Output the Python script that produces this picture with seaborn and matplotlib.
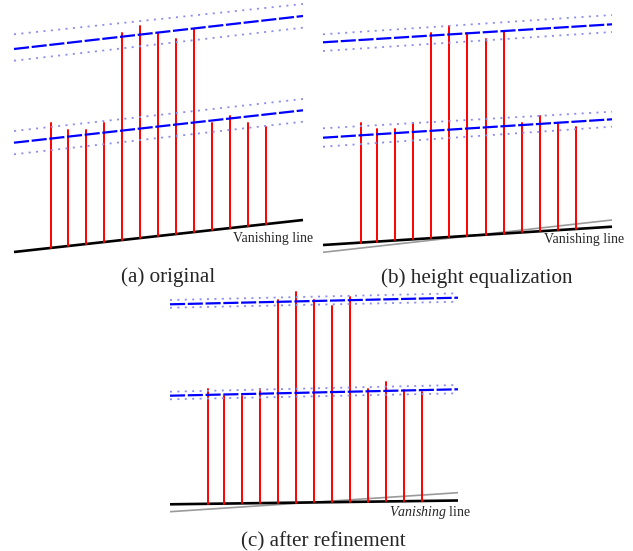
import matplotlib

matplotlib.use("Agg")
import matplotlib.pyplot as plt
import numpy as np
import pandas as pd
import seaborn as sns

sns.set_theme(style="white")
plt.rcParams["font.family"] = ["Liberation Serif", "DejaVu Serif"]
plt.rcParams["mathtext.fontset"] = "custom"
plt.rcParams["mathtext.it"] = "Liberation Serif:italic"
plt.rcParams["mathtext.rm"] = "Liberation Serif"

# everything below is measured in pixels of the 633x551 picture (y down)

# (a) original
a_pole_x = [51, 68.3, 86.3, 104.3, 122.3, 140, 158.3, 176.3, 194.3, 212.3, 230.3, 248.3, 266.3]
a_pole_top = [123.3, 130, 130, 123.3, 33.3, 26, 33.3, 39, 29.3, 123.3, 116, 123.3, 126.7]
a_span = [14, 303]
a_ground = [252, 220]
a_upper = [49, 16]
a_upper_band = [[34.3, 4], [60.7, 27.7]]
a_lower = [142.7, 110.3]
a_lower_band = [[131, 99], [154.3, 121.7]]

# (b) height equalization
b_pole_x = [361, 377.3, 395.3, 413.3, 431.3, 449.3, 467.3, 485.7, 503.7, 521.7, 539.7, 557.7, 575.7]
b_pole_top = [123.3, 129.3, 129.3, 123.3, 33.3, 26, 33.3, 39, 30.7, 123.3, 116, 124, 126.7]
b_span = [323, 612]
b_ground = [245, 226.7]
b_old_ground = [252.3, 220]
b_upper = [42.3, 24.3]
b_upper_band = [[34.3, 15], [51, 32]]
b_lower = [137.7, 119.3]
b_lower_band = [[128.3, 111.7], [146.7, 126.7]]

# (c) after refinement
c_pole_x = [208, 224.3, 242, 260, 278, 296, 313.7, 332, 350, 368, 386, 404, 422]
c_pole_top = [389.3, 396, 396, 389.3, 300, 292.3, 300, 305.7, 296.7, 389.3, 382.3, 390, 392.3]
c_span = [170, 458]
c_ground = [504.3, 500.5]
c_old_ground = [511.7, 492.7]
c_upper = [304.3, 297.7]
c_upper_band = [[300, 293.3], [307.7, 301.7]]
c_lower = [395.7, 389.3]
c_lower_band = [[391.7, 385], [399.3, 393.3]]

captions = ["(a) original", "(b) height equalization", "(c) after refinement"]
caption_pos = [(168.3, 282), (476.7, 282.5), (323, 546.7)]
vanish_labels = ["Vanishing line", "Vanishing line", r"$\mathit{Vanishing}$ line"]
vanish_pos = [(313, 242.3), (624.3, 243.3), (470.7, 516)]

panels = [
    (a_pole_x, a_pole_top, a_span, a_ground, None, a_upper, a_upper_band, a_lower, a_lower_band),
    (b_pole_x, b_pole_top, b_span, b_ground, b_old_ground, b_upper, b_upper_band, b_lower, b_lower_band),
    (c_pole_x, c_pole_top, c_span, c_ground, c_old_ground, c_upper, c_upper_band, c_lower, c_lower_band),
]

fig = plt.figure(figsize=(6.33, 5.51), dpi=100)
ax = fig.add_axes([0, 0, 1, 1])

rows = []
for p, (px, ptop, span, ground, *_rest) in enumerate(panels):
    bottoms = np.interp(px, span, ground)
    for i, (x, yb, yt) in enumerate(zip(px, bottoms, ptop)):
        rows.append({"pole": f"{p}-{i}", "x": x, "y": yb})
        rows.append({"pole": f"{p}-{i}", "x": x, "y": yt})
poles = pd.DataFrame(rows)

for p, (px, ptop, span, ground, old_ground, upper, upper_band, lower, lower_band) in enumerate(panels):
    if old_ground is not None:
        ax.plot(span, old_ground, color="#9a9a9a", lw=1.2, solid_capstyle="butt")
    ax.plot(span, ground, color="black", lw=1.9, solid_capstyle="butt")

sns.lineplot(data=poles, x="x", y="y", units="pole", estimator=None, sort=False,
             color="#ff0000", lw=1.4, ax=ax)

for p, (px, ptop, span, ground, old_ground, upper, upper_band, lower, lower_band) in enumerate(panels):
    for centre, band in [(upper, upper_band), (lower, lower_band)]:
        for edge in band:
            ax.plot(span, edge, color="#8c8cf0", lw=1.3, linestyle=(0, (1.1, 3.0)),
                    dash_capstyle="butt")
        ax.plot(span, centre, color="#0000ff", lw=1.6, linestyle=(0, (6.8, 1.2)),
                dash_capstyle="butt")
    ax.text(*vanish_pos[p], vanish_labels[p], ha="right", va="baseline", fontsize=10)
    ax.text(*caption_pos[p], captions[p], ha="center", va="baseline", fontsize=15.2)

ax.set_xlim(0, 633)
ax.set_ylim(551, 0)
ax.set_axis_off()
fig.savefig("out.png", dpi=100)
